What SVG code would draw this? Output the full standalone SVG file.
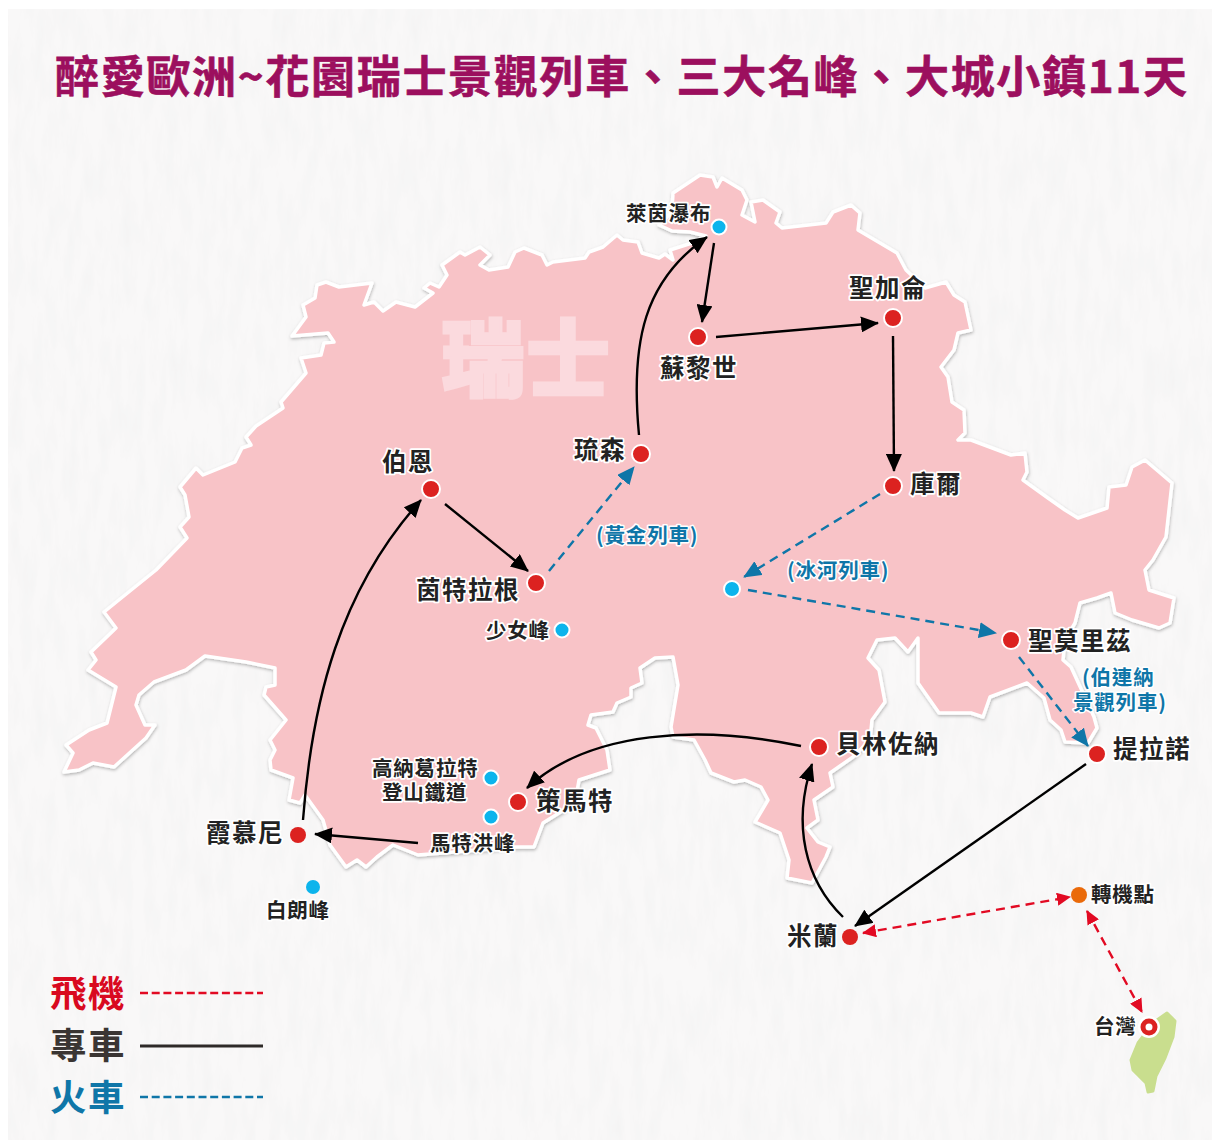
<svg xmlns="http://www.w3.org/2000/svg" width="1219" height="1142" viewBox="0 0 1219 1142">
<defs>
<filter id="paper" x="0" y="0" width="100%" height="100%"><feTurbulence type="fractalNoise" baseFrequency="0.09 0.02" numOctaves="4" seed="11" result="n"/><feColorMatrix in="n" type="matrix" values="0 0 0 0 0.88  0 0 0 0 0.88  0 0 0 0 0.88  1.1 0 0 0 -0.42"/><feComposite in2="SourceGraphic" operator="over"/></filter>
<filter id="sh" x="-5%" y="-5%" width="110%" height="110%"><feDropShadow dx="0.5" dy="1.5" stdDeviation="1.5" flood-color="#000" flood-opacity=".28"/></filter>
<marker id="ak" markerUnits="userSpaceOnUse" viewBox="0 0 18 16" markerWidth="18" markerHeight="16" refX="17" refY="8" orient="auto-start-reverse"><path d="M0 0L18 8L0 16z" fill="#000"/></marker>
<marker id="ab" markerUnits="userSpaceOnUse" viewBox="0 0 18 16" markerWidth="18" markerHeight="16" refX="17" refY="8" orient="auto"><path d="M0 0L18 8L0 16z" fill="#0f76a8"/></marker>
<marker id="ar" markerUnits="userSpaceOnUse" viewBox="0 0 14 13" markerWidth="14" markerHeight="13" refX="13" refY="6.5" orient="auto-start-reverse"><path d="M0 0L14 6.500L0 13z" fill="#e20a23"/></marker>
</defs>
<style>
text{font-family:"Noto Sans CJK TC","Noto Sans CJK JP",sans-serif;font-weight:700}
.l{font-size:24.5px;letter-spacing:1.5px;fill:#222;stroke:#fff;stroke-width:3.5px;paint-order:stroke;stroke-linejoin:round}
.s{font-size:20.5px;letter-spacing:.8px;fill:#222;stroke:#fff;stroke-width:3.5px;paint-order:stroke;stroke-linejoin:round}
.b{font-size:20.5px;letter-spacing:.8px;fill:#0f76a8;stroke:#fff;stroke-width:3px;paint-order:stroke;stroke-linejoin:round}
.leg{font-size:36.500px;letter-spacing:1.500px}
.k{fill:none;stroke:#000;stroke-width:2.4;marker-end:url(#ak)}
.t{fill:none;stroke:#0f76a8;stroke-width:2.4;stroke-dasharray:9 6;marker-end:url(#ab)}
.p{fill:none;stroke:#e20a23;stroke-width:2.4;stroke-dasharray:9 6;marker-end:url(#ar);marker-start:url(#ar)}
.rd{fill:#dc2220;stroke:#fff;stroke-width:2}
.bl{fill:#0cb4ec;stroke:#fff;stroke-width:2}
</style>
<rect width="1219" height="1142" fill="#fff"/>
<rect x="8" y="9" width="1204" height="1131" fill="#f9f8f8" filter="url(#paper)"/>
<text x="55" y="93" fill="#9c0f5e" stroke="#9c0f5e" stroke-width=".6" font-size="44" textLength="1132" lengthAdjust="spacing">醉愛歐洲~花園瑞士景觀列車、三大名峰、大城小鎮11天</text>
<g id="map">
<path filter="url(#sh)" fill="#f8c3c7" stroke="#fff" stroke-width="3.5" stroke-linejoin="round" d="M156 570L187 538L180 527L189 517L185 495L180 487L196 468L203 475L235 462L242 448L251 445L246 437L256 426L283 408L281 402L306 373L301 358L321 355L324 343L334 342L328 333L292 336L306 317L303 305L315 298L317 285L326 282L339 287L372 283L364 305L374 302L383 311L396 302L415 307L433 293L424 288L430 283L439 287L447 275L442 265L460 252L465 255L480 247L490 255L480 265L489 270L508 267L515 252L524 248L542 255L547 265L553 262L585 258L589 252L603 247L617 235L623 240L638 242L642 253L659 258L665 254L673 260L670 250L692 243L706 236L690 232L672 231L659 225L672 212L673 193L700 175L713 177L717 187L722 178L742 190L747 200L742 215L755 222L751 202L763 200L780 212L776 223L782 228L826 223L833 212L851 205L860 213L858 230L897 253L906 270L925 288L946 282L954 295L965 302L971 330L958 333L954 350L941 367L948 377L952 402L964 410L965 433L958 440L971 440L1011 455L1025 453L1027 472L1023 480L1048 498L1065 510L1078 518L1107 508L1109 487L1126 485L1132 467L1145 460L1172 483L1166 537L1153 560L1145 570L1149 590L1174 598L1170 623L1159 628L1132 620L1115 613L1111 593L1097 598L1080 603L1075 623L1065 640L1063 660L1071 667L1094 717L1097 728L1088 743L1065 742L1061 730L1050 720L1044 698L1027 683L990 697L983 717L971 713L939 713L918 683L918 638L908 652L895 638L877 640L868 658L879 670L885 702L872 720L870 740L853 757L830 773L833 787L814 800L818 820L807 828L818 842L830 847L826 857L812 883L787 878L789 860L780 833L755 822L768 800L761 787L745 780L734 782L711 773L705 760L694 740L673 737L671 727L678 685L673 657L655 658L640 668L642 683L631 688L631 697L617 703L613 712L591 715L588 725L596 728L607 750L610 770L579 780L575 803L543 823L534 847L514 847L418 855L393 845L377 857L366 867L357 860L346 867L330 845L323 820L305 795L300 803L289 800L293 778L271 770L270 760L275 750L270 740L286 720L264 695L266 687L275 685L275 668L246 662L205 656L186 670L154 682L139 695L136 705L145 725L155 725L146 738L114 767L93 763L79 770L64 772L73 753L66 745L89 730L107 723L116 687L88 670L96 660L91 652L116 628L104 612L125 595Z"/>
<text x="441" y="390" font-size="84" fill="#fbdade" stroke="#fbdade" stroke-width="2.500" style="font-weight:900" letter-spacing="1">瑞士</text>
</g>
<g id="taiwan"><path fill="#c9de8e" stroke="#c9de8e" stroke-width="3" stroke-linejoin="round" d="M1167 1013L1175 1021L1173 1037L1165 1058L1156 1076L1153 1091L1148 1092L1146 1083L1133 1070L1131 1060L1138 1043L1147 1031L1157 1020Z"/></g>
<g id="connectors">
<path class="k" d="M714 243L702 322"/>
<path class="k" d="M716 337L878 323"/>
<path class="k" d="M893 336L894 471"/>
<path class="k" d="M445 504L528 571"/>
<path class="k" d="M639 435C630 340 645 280 707 237"/>
<path class="k" d="M303 820C312 700 340 590 421 500"/>
<path class="k" d="M418 843L315 834"/>
<path class="k" d="M801 746C700 725 590 730 527 788"/>
<path class="k" d="M843 917C805 880 792 825 812 764"/>
<path class="k" d="M1086 764L855 926"/>
<path class="t" d="M549 571L634 467"/>
<path class="t" d="M880 494L744 577"/>
<path class="t" d="M748 590L996 633"/>
<path class="t" d="M1019 657L1088 746"/>
<path class="p" d="M863 933L1070 897"/>
<path class="p" d="M1087 911L1142 1012"/>
</g>
<g id="n-zurich"><circle class="rd" cx="698" cy="337" r="9"/><text class="l" x="660" y="377">蘇黎世</text></g>
<g id="n-rhine"><circle class="bl" cx="719" cy="227" r="7.500"/><text class="s" x="626" y="221">萊茵瀑布</text></g>
<g id="n-stgallen"><circle class="rd" cx="893" cy="318" r="9"/><text class="l" x="849" y="297">聖加侖</text></g>
<g id="n-chur"><circle class="rd" cx="893" cy="486" r="9"/><text class="l" x="910" y="493">庫爾</text></g>
<g id="n-luzern"><circle class="rd" cx="641" cy="454" r="9"/><text class="l" x="574" y="459">琉森</text></g>
<g id="n-bern"><circle class="rd" cx="431" cy="489" r="9"/><text class="l" x="382" y="471">伯恩</text></g>
<g id="n-interlaken"><circle class="rd" cx="536" cy="583" r="9"/><text class="l" x="416" y="599">茵特拉根</text></g>
<g id="n-jungfrau"><circle class="bl" cx="562" cy="630" r="7.500"/><text class="s" x="486" y="638">少女峰</text></g>
<g id="n-glacier"><circle class="bl" cx="732" cy="589" r="8"/></g>
<g id="n-stmoritz"><circle class="rd" cx="1011" cy="640" r="9"/><text class="l" x="1028" y="650">聖莫里茲</text></g>
<g id="n-tirano"><circle class="rd" cx="1097" cy="754" r="9"/><text class="l" x="1113" y="758">提拉諾</text></g>
<g id="n-bellinzona"><circle class="rd" cx="819" cy="747" r="9"/><text class="l" x="836" y="753">貝林佐納</text></g>
<g id="n-milan"><circle cx="850" cy="937" r="8" fill="#dc2220"/><text class="l" x="787" y="945">米蘭</text></g>
<g id="n-zermatt"><circle class="rd" cx="518" cy="802" r="9"/><text class="l" x="536" y="810">策馬特</text></g>
<g id="n-gornergrat"><circle class="bl" cx="491" cy="778" r="7.500"/><text class="s" x="372" y="776">高納葛拉特</text><text class="s" x="382" y="800">登山鐵道</text></g>
<g id="n-matterhorn"><circle class="bl" cx="491" cy="817" r="7.500"/><text class="s" x="430" y="851">馬特洪峰</text></g>
<g id="n-chamonix"><circle cx="298" cy="835" r="8" fill="#dc2220"/><text class="l" x="206" y="842">霞慕尼</text></g>
<g id="n-blanc"><circle cx="313" cy="887" r="7" fill="#0cb4ec"/><text class="s" x="266" y="918">白朗峰</text></g>
<g id="n-transfer"><circle cx="1079" cy="895" r="8" fill="#ea6a0a"/><text class="s" x="1091" y="902">轉機點</text></g>
<g id="n-taiwan"><circle cx="1149" cy="1027" r="11" fill="#fff"/><circle cx="1149" cy="1027" r="6" fill="#fff" stroke="#dc2220" stroke-width="5"/><text class="s" x="1094" y="1034">台灣</text></g>
<g id="route-labels">
<text class="b" x="596" y="543">(黃金列車)</text>
<text class="b" x="787" y="578">(冰河列車)</text>
<text class="b" x="1082" y="685">(伯連納</text>
<text class="b" x="1073" y="710">景觀列車)</text>
</g>
<g id="legend">
<text class="leg" x="50" y="1007" fill="#d9091f">飛機</text>
<line x1="140" y1="993" x2="263" y2="993" stroke="#e20a23" stroke-width="2.500" stroke-dasharray="8 3.700"/>
<text class="leg" x="50" y="1059" fill="#3a3533">專車</text>
<line x1="140" y1="1046" x2="263" y2="1046" stroke="#2e2a28" stroke-width="3"/>
<text class="leg" x="50" y="1111" fill="#0f76a8">火車</text>
<line x1="140" y1="1097" x2="263" y2="1097" stroke="#0f76a8" stroke-width="2.500" stroke-dasharray="8 3.700"/>
</g>
</svg>
